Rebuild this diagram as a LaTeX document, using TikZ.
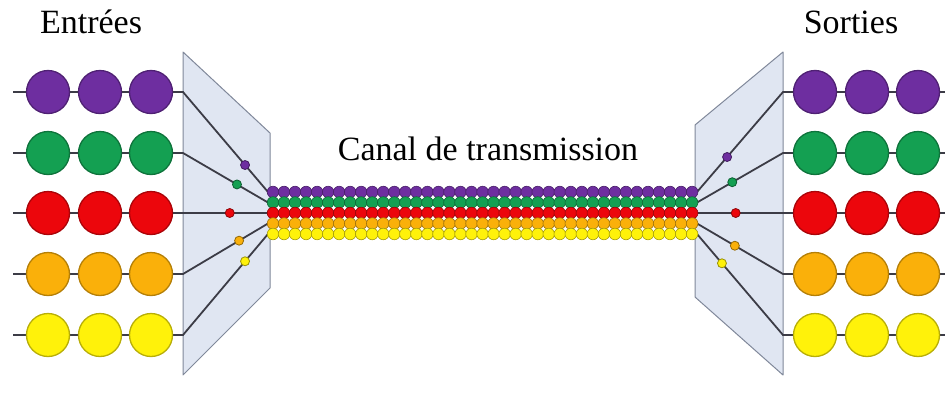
\documentclass[tikz,border=0pt]{standalone}
\usepackage{fontspec}
\setmainfont{Liberation Serif}
\usetikzlibrary{positioning}
\definecolor{wpurple}{RGB}{110,46,160}
\definecolor{wgreen}{RGB}{20,160,82}
\definecolor{wred}{RGB}{236,6,12}
\definecolor{worange}{RGB}{250,176,10}
\definecolor{wyellow}{RGB}{255,242,10}
\definecolor{panelbg}{RGB}{224,230,242}
\definecolor{paneledge}{RGB}{128,136,154}
\definecolor{wiregray}{RGB}{60,60,70}

\begin{document}
\begin{tikzpicture}[x=1pt, y=-1pt, font=\fontsize{34}{40}\selectfont,
    panel/.style={draw=paneledge, fill=panelbg, line width=1pt, line join=round},
    wire/.style={draw=wiregray, line width=1.8pt},
    bead/.style={circle, draw=#1!72!black, fill=#1, line width=1.3pt,
                 minimum size=43pt, inner sep=0pt},
    grain/.style={circle, draw=#1!60!black, fill=#1, line width=0.8pt,
                  minimum size=9pt, inner sep=0pt}]
  \useasboundingbox (0,0) rectangle (945,394);
  % titles
  \node[anchor=base] (entrees) at (91,33)  {Entrées};
  \node[anchor=base] (sorties) at (851,33) {Sorties};
  \node[anchor=base] (canal)   at (488,160) {Canal de transmission};
  % the two prisms
  \filldraw[panel] (183,52) -- (270,133) -- (270,288) -- (183,375) -- cycle;
  \filldraw[panel] (695,125) -- (783,52) -- (783,375) -- (695,297) -- cycle;
  % one row per colour
  \foreach \col/\yrow/\ybun/\pl/\pr [count=\i] in
      {wpurple/92/192/0.73/0.35, wgreen/153/202.5/0.635/0.41,
       wred/213/213/0.55/0.45, worange/274/223.5/0.66/0.44,
       wyellow/335/234/0.73/0.29} {
    \coordinate (inA\i)  at (13,\yrow);
    \coordinate (inB\i)  at (183,\yrow);
    \coordinate (bunL\i) at (268,\ybun);
    \coordinate (bunR\i) at (697,\ybun);
    \coordinate (outB\i) at (783,\yrow);
    \coordinate (outA\i) at (945,\yrow);
    \draw[wire] (inA\i) -- (inB\i) -- (bunL\i)
      node[grain=\col, pos=\pl] (dotL\i) {};
    \draw[wire] (bunR\i) -- (outB\i)
      node[grain=\col, pos=\pr] (dotR\i) {} -- (outA\i);
    \node[bead=\col] (in\i a)  at (48,\yrow)  {};
    \node[bead=\col] (in\i b)  at (100,\yrow) {};
    \node[bead=\col] (in\i c)  at (151,\yrow) {};
    \node[bead=\col] (out\i a) at (815,\yrow) {};
    \node[bead=\col] (out\i b) at (867,\yrow) {};
    \node[bead=\col] (out\i c) at (918,\yrow) {};
    % the multiplexed bundle
    \foreach \k in {0,...,38}
      \filldraw[draw=\col!65!black, fill=\col, line width=0.6pt]
        (273+11.03*\k,\ybun) circle[radius=5.8];
  }
\end{tikzpicture}
\end{document}
